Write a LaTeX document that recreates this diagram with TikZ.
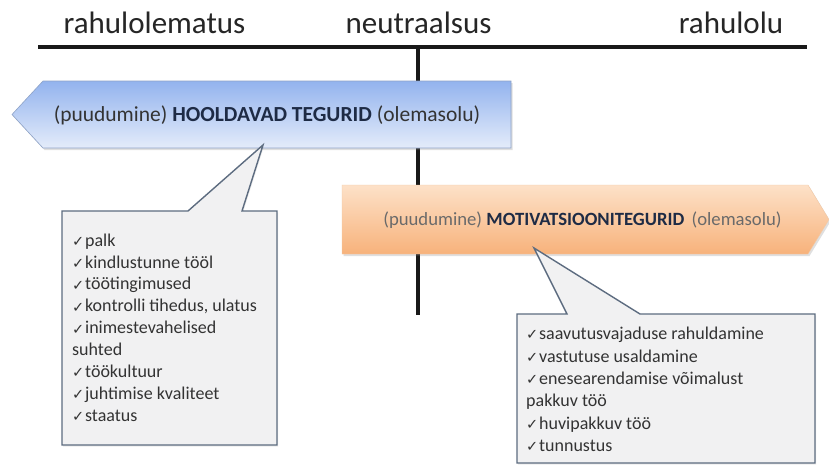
\documentclass[tikz,border=0pt]{standalone}
\usepackage{fontspec}
\setmainfont{Carlito}
\newfontfamily\symfont{DejaVu Sans}
\usetikzlibrary{shadows}
\definecolor{bluetop}{HTML}{93B3EE}
\definecolor{bluebot}{HTML}{E4ECFA}
\definecolor{blueedge}{HTML}{8EA3C7}
\definecolor{ortop}{HTML}{FDE1C8}
\definecolor{orbot}{HTML}{F7B27B}
\definecolor{oredge}{HTML}{F2C9A6}
\definecolor{coedge}{HTML}{5D6C80}
\definecolor{cofill}{HTML}{F1F1F2}
\definecolor{txt}{HTML}{333333}
\definecolor{titletxt}{HTML}{262626}
\definecolor{lighttxt}{HTML}{6A6A6A}
\definecolor{navy}{HTML}{1E2B45}
\newcommand\ck{{\symfont\fontsize{14.5}{14.5}\selectfont\raisebox{-0.3pt}{✓}}\hspace{0.8pt}}
\begin{document}
\begin{tikzpicture}[x=1pt,y=-1pt,
  titletext/.style={font=\fontsize{31}{36}\selectfont, text=titletxt, anchor=base, inner sep=0},
  axisline/.style={line width=3.5pt, draw=black!90},
  arrowshape/.style={drop shadow={opacity=0.25, shadow xshift=1.5pt, shadow yshift=-2pt}},
  calloutshape/.style={draw=coedge, line width=1.4pt, fill=cofill, line join=miter,
     drop shadow={opacity=0.15, shadow xshift=1pt, shadow yshift=-1.5pt}},
  callouttext/.style={anchor=north west, inner sep=0, align=left, text=txt}
]
\useasboundingbox (0,0) rectangle (829,466);
\fill[white] (0,0) rectangle (829,466);

% titles
\node[titletext] (t1) at (154.5,33) {rahulolematus};
\node[titletext] (t2) at (418.5,33) {neutraalsus};
\node[titletext] (t3) at (731,33) {rahulolu};

% axis
\coordinate (axL) at (38,47);
\coordinate (axR) at (807,47);
\coordinate (vtop) at (418,47);
\coordinate (vbot) at (418,315);
\draw[axisline] (axL) -- (axR);
\draw[axisline] (vtop) -- (vbot);

% blue arrow (hooldavad tegurid)
\path[arrowshape, top color=bluetop, bottom color=bluebot, draw=blueedge, line width=0.6pt]
  (43,81) -- (511,81) -- (511,148) -- (43,148) -- (12,114.5) -- cycle;
\node[font=\fontsize{21.5}{24}\selectfont, text=txt, inner sep=0] (blue) at (267,115)
  {(puudumine) \textbf{\color{navy}HOOLDAVAD TEGURID} (olemasolu)};

% orange arrow (motivatsioonitegurid)
\path[arrowshape, top color=ortop, bottom color=orbot, draw=oredge, line width=0.4pt]
  (342,185) -- (808,185) -- (829,219.5) -- (808,254) -- (342,254) -- cycle;
\node[font=\fontsize{18.7}{22}\selectfont, text=lighttxt, inner sep=0] (orange) at (582.5,220)
  {(puudumine) \textbf{\color{navy}MOTIVATSIOONITEGURID}\ \,(olemasolu)};

% blue callout
\coordinate (btip) at (263,145);
\path[calloutshape] (62,211) -- (188,211) -- (btip) -- (242,211) -- (277,211)
  -- (277,445) -- (62,445) -- cycle;
\node[callouttext, font=\fontsize{18}{21.9}\selectfont] (blist) at (72,230.6)
  {\strut\ck palk\\
   \ck kindlustunne tööl\\
   \ck töötingimused\\
   \ck kontrolli tihedus, ulatus\\
   \ck inimestevahelised\\
   suhted\\
   \ck töökultuur\\
   \ck juhtimise kvaliteet\\
   \ck staatus};

% orange callout
\coordinate (otip) at (534,248);
\path[calloutshape] (517,314) -- (567,314) -- (otip) -- (640,314) -- (815,314)
  -- (815,463) -- (517,463) -- cycle;
\node[callouttext, font=\fontsize{18}{22.4}\selectfont] (olist) at (526,323.8)
  {\strut\ck saavutusvajaduse rahuldamine\\
   \ck vastutuse usaldamine\\
   \ck enesearendamise võimalust\\
   pakkuv töö\\
   \ck huvipakkuv töö\\
   \ck tunnustus};
\end{tikzpicture}
\end{document}
